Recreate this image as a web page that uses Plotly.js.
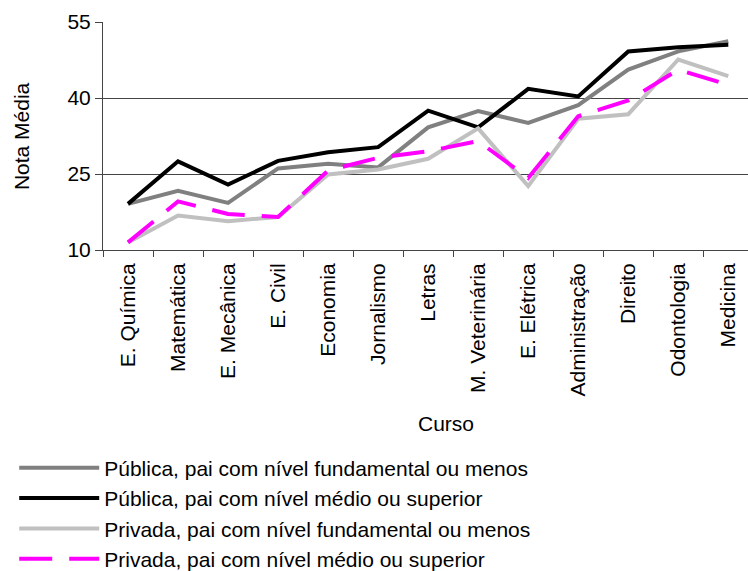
<!DOCTYPE html>
<html>
<head>
<meta charset="utf-8">
<script src="https://cdn.plot.ly/plotly-3.0.1.min.js"></script>
<style>
  html, body { margin: 0; padding: 0; background: #fff; }
  #chart { width: 748px; height: 571px; }
</style>
</head>
<body>
<div id="chart"></div>
<script>
// cursos no eixo x
const cursos = ['E. Química', 'Matemática', 'E. Mecânica', 'E. Civil', 'Economia', 'Jornalismo',
  'Letras', 'M. Veterinária', 'E. Elétrica', 'Administração', 'Direito', 'Odontologia', 'Medicina'];

// notas médias
const publicaFund = [19.1, 21.7, 19.3, 26.1, 27.0, 26.3, 34.2, 37.4, 35.1, 38.6, 45.6, 49.2, 51.2];
const publicaMedio = [19.1, 27.5, 22.9, 27.6, 29.3, 30.3, 37.5, 34.2, 41.8, 40.3, 49.2, 50.0, 50.5];
const privadaFund = [11.5, 16.8, 15.7, 16.5, 24.9, 25.9, 28.0, 34.0, 22.6, 35.9, 36.8, 47.6, 44.3];
const privadaMedio = [11.5, 19.6, 17.1, 16.5, 25.7, 28.2, 29.5, 31.5, 24.2, 36.4, 39.5, 45.6, 42.6];

const yTicks = [10, 25, 40, 55];

const fonte = 'Liberation Sans, Arial, sans-serif';
const tam = 21;

function serie(nome, valores, cor, dash) {
  return {
    x: cursos,
    y: valores,
    name: nome,
    type: 'scatter',
    mode: 'lines',
    line: { color: cor, width: 4, dash: dash || 'solid' }
  };
}

const data = [
  serie('Pública, pai com nível fundamental ou menos', publicaFund, '#808080'),
  serie('Pública, pai com nível médio ou superior', publicaMedio, '#000000'),
  serie('Privada, pai com nível fundamental ou menos', privadaFund, '#c0c0c0'),
  serie('Privada, pai com nível médio ou superior', privadaMedio, '#ff00ff', '33px,17px')
];

const layout = {
  width: 748,
  height: 571,
  margin: { l: 103, r: 0, t: 22, b: 321, autoexpand: false },
  paper_bgcolor: '#ffffff',
  plot_bgcolor: '#ffffff',
  font: { family: fonte, size: tam, color: '#000000' },
  showlegend: true,
  xaxis: {
    type: 'category',
    range: [-0.5, 12.394],
    tickson: 'boundaries',
    ticks: 'outside',
    ticklen: 6,
    tickcolor: '#444',
    tickangle: -90,
    ticklabelstandoff: 4,
    showline: true,
    linecolor: '#444',
    linewidth: 1,
    showgrid: false,
    zeroline: false,
    automargin: false,
    tickfont: { family: fonte, size: tam }
  },
  yaxis: {
    range: [10, 55],
    tickvals: yTicks,
    ticktext: yTicks.map(String),
    ticks: 'outside',
    ticklen: 7,
    tickcolor: '#444',
    showline: true,
    linecolor: '#444',
    linewidth: 1,
    showgrid: true,
    gridcolor: '#444',
    gridwidth: 1,
    zeroline: false,
    automargin: false,
    tickfont: { family: fonte, size: tam }
  },
  annotations: [{
    text: 'Curso',
    xref: 'x', yref: 'paper',
    x: 6.35, y: -0.76,
    xanchor: 'center', yanchor: 'middle',
    showarrow: false,
    font: { family: fonte, size: tam }
  }, {
    text: 'Nota Média',
    xref: 'paper', yref: 'paper',
    x: -0.127, y: 0.5,
    xanchor: 'center', yanchor: 'middle',
    textangle: -90,
    showarrow: false,
    font: { family: fonte, size: tam }
  }],
  legend: {
    xref: 'container', yref: 'container',
    x: 0.019, y: 0.216,
    xanchor: 'left', yanchor: 'top',
    itemwidth: 80,
    tracegroupgap: 0,
    font: { family: fonte, size: tam },
    bgcolor: 'rgba(0,0,0,0)'
  }
};

Plotly.newPlot('chart', data, layout, { displayModeBar: false, staticPlot: true });
</script>
</body>
</html>
